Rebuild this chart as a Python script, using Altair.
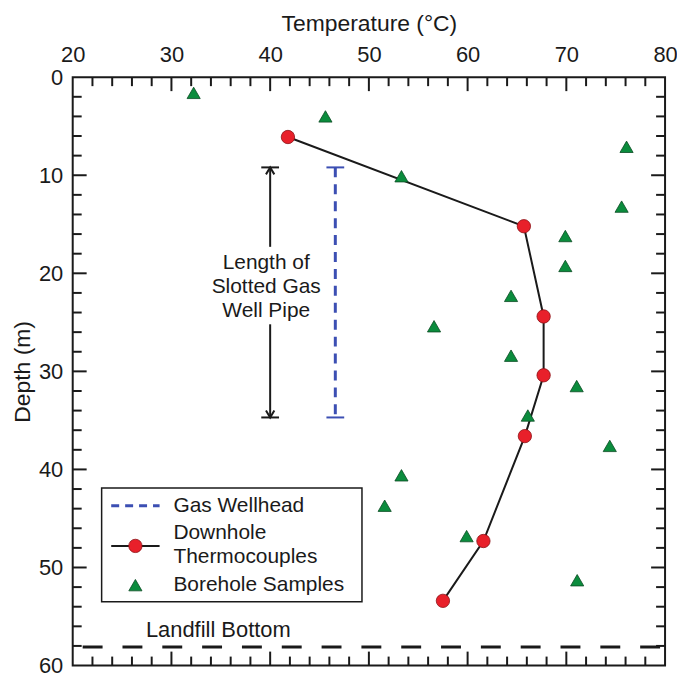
import altair as alt
import pandas as pd

# ---- data ----
tc_temp = [41.8, 65.7, 67.7, 67.7, 65.8, 61.6, 57.5]
tc_depth = [6.1, 15.2, 24.4, 30.4, 36.6, 47.3, 53.4]

bh_temp = [32.25, 45.6, 76.1, 53.3, 75.6, 69.9, 69.9, 64.4, 56.6, 64.4, 71.05,
           66.1, 74.4, 53.3, 51.6, 59.9, 71.1]
bh_depth = [1.6, 4.0, 7.1, 10.1, 13.2, 16.2, 19.25, 22.3, 25.4, 28.4, 31.5,
            34.5, 37.6, 40.6, 43.7, 46.8, 51.3]

wellhead_temp = 46.6
slot_top = 9.2
slot_bottom = 34.7
arrow_temp = 40.0
arrow_gap = [17.3, 25.2]
landfill_bottom = 58.1

x_labels = [20, 30, 40, 50, 60, 70, 80]
y_labels = [0, 10, 20, 30, 40, 50, 60]
x_major = [30, 40, 50, 60, 70]
x_minor = [v for v in range(22, 80, 2) if v % 10]
y_major = [10, 20, 30, 40, 50]
y_minor = [v for v in range(2, 60, 2) if v % 10]

annot_lines = ["Length of", "Slotted Gas", "Well Pipe"]
annot_depth = [18.95, 21.4, 23.8]

W, H = 595, 591
FONT = "Liberation Sans"
INK = "#1a1a1a"
RED = "#e8202a"
GREEN = "#0b8c3d"
BLUE = "#3c4fb3"

xs = alt.Scale(domain=[20, 80], nice=False, zero=False)
ys = alt.Scale(domain=[0, 60], reverse=True, nice=False, zero=False)

x_axis = alt.Axis(orient="top", values=x_labels, ticks=False, domain=False, grid=False,
                  labelFontSize=22, labelPadding=11, labelFlush=False, labelOverlap=False,
                  labelColor=INK, title="Temperature (°C)", titleFontSize=23,
                  titleFontWeight="normal", titleColor=INK, titlePadding=8)
y_axis = alt.Axis(orient="left", values=y_labels, ticks=False, domain=False, grid=False,
                  labelFontSize=22, labelPadding=10, labelFlush=False, labelOverlap=False,
                  labelColor=INK, title="Depth (m)", titleFontSize=23,
                  titleFontWeight="normal", titleColor=INK, titlePadding=4)


def X(f):
    return alt.X(f, type="quantitative", scale=xs, axis=x_axis)


def Y(f):
    return alt.Y(f, type="quantitative", scale=ys, axis=y_axis)


# ---- inward ticks on all four sides ----
def xticks(vals, y0, y1):
    return alt.Chart(pd.DataFrame({"t": vals})).mark_rule(color=INK, strokeWidth=2).encode(
        x=X("t"), y=alt.value(y0), y2=alt.value(y1))


def yticks(vals, x0, x1):
    return alt.Chart(pd.DataFrame({"d": vals})).mark_rule(color=INK, strokeWidth=2).encode(
        y=Y("d"), x=alt.value(x0), x2=alt.value(x1))


ticks = [
    xticks(x_major, 0, 14), xticks(x_minor, 0, 9),
    xticks(x_major, H, H - 14), xticks(x_minor, H, H - 9),
    yticks(y_major, 0, 14), yticks(y_minor, 0, 9),
    yticks(y_major, W, W - 14), yticks(y_minor, W, W - 9),
]

# ---- data layers ----
tc = pd.DataFrame({"T": tc_temp, "D": tc_depth, "i": range(len(tc_temp))})
bh = pd.DataFrame({"T": bh_temp, "D": bh_depth})

tc_line = alt.Chart(tc).mark_line(color=INK, strokeWidth=2).encode(
    x=X("T"), y=Y("D"), order="i:Q")
tc_pts = alt.Chart(tc).mark_point(shape="circle", filled=True, size=180, fill=RED,
                                  stroke="#8c1217", strokeWidth=0.8, opacity=1).encode(
    x=X("T"), y=Y("D"))
bh_pts = alt.Chart(bh).mark_point(shape="triangle-up", filled=True, size=175, fill=GREEN,
                                  stroke="#0a4a22", strokeWidth=0.8, opacity=1).encode(
    x=X("T"), y=Y("D"))

# wellhead dashed line with caps
wh = pd.DataFrame({"T": [wellhead_temp], "D": [slot_top], "D2": [slot_bottom]})
wh_line = alt.Chart(wh).mark_rule(color=BLUE, strokeWidth=3, strokeDash=[10, 7]).encode(
    x=X("T"), y=Y("D"), y2="D2")
caps = pd.DataFrame({"D": [slot_top, slot_bottom]})
wh_caps = alt.Chart(caps).mark_rule(color=BLUE, strokeWidth=2).encode(
    x=alt.X("a:Q", scale=xs, axis=x_axis), x2="b:Q", y=Y("D")).transform_calculate(
    a=f"{wellhead_temp} - 0.9", b=f"{wellhead_temp} + 0.9")

# double-headed arrow
arr = pd.DataFrame({"T": [arrow_temp, arrow_temp], "D": [slot_top, arrow_gap[1]],
                    "D2": [arrow_gap[0], slot_bottom]})
arr_line = alt.Chart(arr).mark_rule(color=INK, strokeWidth=2).encode(
    x=X("T"), y=Y("D"), y2="D2")
arr_caps = alt.Chart(caps).mark_rule(color=INK, strokeWidth=2).encode(
    x=alt.X("a:Q", scale=xs, axis=x_axis), x2="b:Q", y=Y("D")).transform_calculate(
    a=f"{arrow_temp} - 0.9", b=f"{arrow_temp} + 0.9")
head_up = alt.Chart(pd.DataFrame({"T": [arrow_temp], "D": [slot_top]})).mark_point(
    shape="M -0.6 1 L 0 0 L 0.6 1", filled=False, size=196, color=INK, strokeWidth=2,
    opacity=1).encode(x=X("T"), y=Y("D"))
head_dn = alt.Chart(pd.DataFrame({"T": [arrow_temp], "D": [slot_bottom]})).mark_point(
    shape="M -0.6 -1 L 0 0 L 0.6 -1", filled=False, size=196, color=INK, strokeWidth=2,
    opacity=1).encode(x=X("T"), y=Y("D"))

annot = alt.Chart(pd.DataFrame({"T": [39.6] * 3, "D": annot_depth, "s": annot_lines})).mark_text(
    font=FONT, fontSize=21, color=INK, align="center", baseline="middle").encode(
    x=X("T"), y=Y("D"), text="s:N")

# landfill bottom
lf = pd.DataFrame({"T": [20], "T2": [80], "D": [landfill_bottom]})
lf_line = alt.Chart(lf).mark_rule(color=INK, strokeWidth=3, strokeDash=[20, 20],
                                  strokeDashOffset=30).encode(x=X("T"), x2="T2", y=Y("D"))
lf_text = alt.Chart(pd.DataFrame({"T": [34.75], "D": [56.4], "s": ["Landfill Bottom"]})).mark_text(
    font=FONT, fontSize=22, color=INK, align="center", baseline="middle").encode(
    x=X("T"), y=Y("D"), text="s:N")

# ---- legend (drawn in data coordinates) ----
leg_box = alt.Chart(pd.DataFrame({"T": [22.93], "T2": [49.3], "D": [41.9], "D2": [53.5]})).mark_rect(
    fill="white", stroke=INK, strokeWidth=1.5).encode(x=X("T"), x2="T2", y=Y("D"), y2="D2")
leg_dash = alt.Chart(pd.DataFrame({"T": [23.9], "T2": [28.8], "D": [43.7]})).mark_rule(
    color=BLUE, strokeWidth=3, strokeDash=[8, 6]).encode(x=X("T"), x2="T2", y=Y("D"))
leg_line = alt.Chart(pd.DataFrame({"T": [23.9], "T2": [28.8], "D": [47.8]})).mark_rule(
    color=INK, strokeWidth=2).encode(x=X("T"), x2="T2", y=Y("D"))
leg_circ = alt.Chart(pd.DataFrame({"T": [26.35], "D": [47.8]})).mark_point(
    shape="circle", filled=True, size=180, fill=RED, stroke="#8c1217", strokeWidth=0.8,
    opacity=1).encode(x=X("T"), y=Y("D"))
leg_tri = alt.Chart(pd.DataFrame({"T": [26.35], "D": [51.8]})).mark_point(
    shape="triangle-up", filled=True, size=175, fill=GREEN, stroke="#0a4a22", strokeWidth=0.8,
    opacity=1).encode(x=X("T"), y=Y("D"))
leg_text = alt.Chart(pd.DataFrame({
    "T": [30.2] * 4, "D": [43.7, 46.5, 48.9, 51.8],
    "s": ["Gas Wellhead", "Downhole", "Thermocouples", "Borehole Samples"]})).mark_text(
    font=FONT, fontSize=21, color=INK, align="left", baseline="middle").encode(
    x=X("T"), y=Y("D"), text="s:N")

chart = alt.layer(
    *ticks, lf_line, lf_text, wh_line, wh_caps, arr_line, arr_caps, head_up, head_dn, annot,
    tc_line, bh_pts, tc_pts,
    leg_box, leg_dash, leg_line, leg_circ, leg_tri, leg_text,
).properties(
    width=W, height=H, autosize="none",
    padding={"left": 65, "top": 68, "right": 12, "bottom": 8},
).configure(font=FONT).configure_view(stroke=INK, strokeWidth=2)

chart.save("out.html", embed_options={"renderer": "svg", "actions": False})
